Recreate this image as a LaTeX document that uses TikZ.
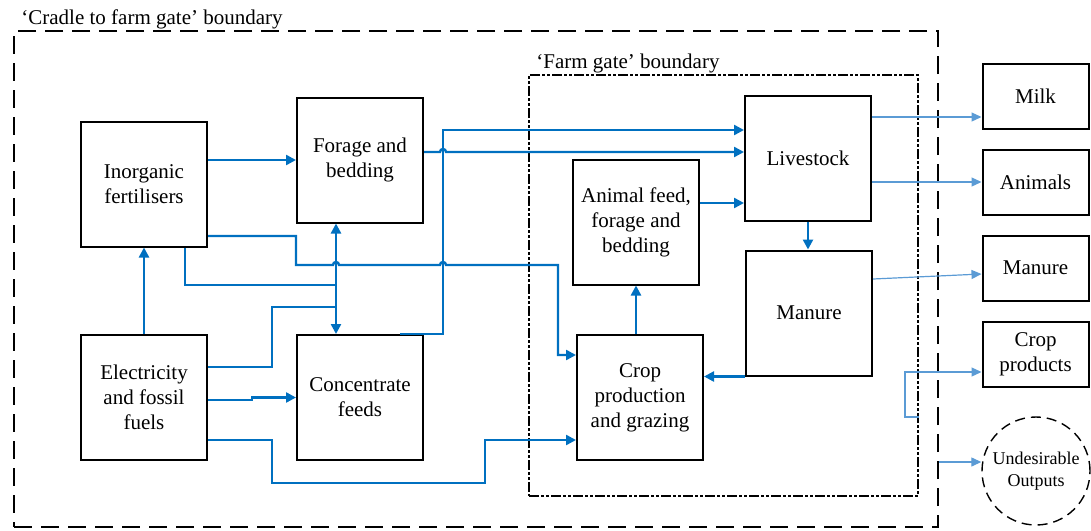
\documentclass[tikz,border=0pt]{standalone}
\usepackage{fontspec}
\setmainfont{Liberation Serif}
\usetikzlibrary{arrows.meta}
\definecolor{flowblue}{HTML}{0070C0}
\definecolor{outblue}{HTML}{5B9BD5}
\tikzset{box/.style={draw, line width=1pt, minimum width=63pt, minimum height=62.5pt, align=center, inner sep=2pt},
outbox/.style={draw, line width=1pt, minimum width=53pt, minimum height=32.5pt, align=center, inner sep=2pt},
%boundaries
cradlebd/.style={draw, line width=1.1pt, dash pattern=on 9pt off 4.5pt, minimum width=462pt, minimum height=248pt, inner sep=0pt},
gatebd/.style={draw, line width=1pt, dash pattern=on 5pt off 1.2pt on 1.2pt off 1.2pt on 1.2pt off 1.2pt, minimum width=194.5pt, minimum height=210.5pt, inner sep=0pt},
flow/.style={draw=flowblue, line width=1.2pt, ->},
link/.style={draw=flowblue, line width=1.2pt},
outflow/.style={draw=outblue, line width=0.6pt, -{Triangle[length=5pt,width=4.5pt]}}}

\begin{document}
\begin{tikzpicture}[x=0.5pt,y=-0.5pt,font=\fontsize{10.5}{12.5}\selectfont,>={Triangle[length=5pt,width=5pt]}]
\useasboundingbox (0,0) rectangle (1091,530);

% boundaries
\node[cradlebd] (cradle) at (476,279) {};
\node[gatebd] (gate) at (723.5,285.5) {};
\node[anchor=base west, inner sep=0pt] (cradletitle) at (21,25) {‘Cradle to farm gate’ boundary};
\node[anchor=base west, inner sep=0pt] (gatetitle) at (536,68) {‘Farm gate’ boundary};

% inputs
\node[box] (fert) at (144,184) {Inorganic\\fertilisers};
\node[box] (forage) at (360,160) {Forage and\\bedding};
\node[box] (elec) at (144,397.5) {Electricity\\and fossil\\fuels};
\node[box] (conc) at (360,397.5) {Concentrate\\feeds};

% farm
\node[box] (feed) at (636,222) {Animal feed,\\forage and\\bedding};
\node[box] (stock) at (808,158) {Livestock};
\node[box] (manure) at (809,313) {Manure};
\node[box] (crop) at (640,397.5) {Crop\\production\\and grazing};

% outputs
\foreach \name/\txt/\y in {milk/Milk/96, animals/Animals/182, manout/Manure/268, cropout/{Crop\\products}/354}
     \node[outbox] (\name) at (1035.5,\y) {\txt};
\node[draw, circle, line width=0.7pt, dash pattern=on 5pt off 3pt, minimum size=54pt, inner sep=0pt, align=center,
      font=\fontsize{9}{11}\selectfont] (undes) at (1036,471) {Undesirable\\Outputs};

% flows into the farm gate
\draw[flow] (fert.east |- forage.west) -- (forage.west);
\draw[flow] (elec.north) -- (fert.south);
\draw[link] (fert.south -| 185,0) |- (336,285);
\draw[flow, <->] (forage.south -| 336,0) -- (conc.north -| 336,0);
\draw[link] (elec.east |- 0,367) -| (272,307) -- (336,307);
\draw[flow] (elec.east |- 0,400) -- (252,400) -- (252,397.5) -- (conc.west);
\draw[flow] (elec.east |- 0,440) -| (272,483) -| (485,440) -- (crop.west |- 0,440);
\draw[flow] (fert.east |- 0,236) -| (296,265) -- (333,265) arc[start angle=180, end angle=360, radius=3]
     -- (440,265) arc[start angle=180, end angle=360, radius=3] -- (558,265) |- (crop.west |- 0,355);
\draw[flow] (conc.north -| 400,0) -| (443,130) -- (stock.west |- 0,130);
\draw[flow] (forage.east |- 0,152) -- (440,152) arc[start angle=180, end angle=360, radius=3] -- (stock.west |- 0,152);

% inside the farm
\draw[flow] (feed.east |- 0,203) -- (stock.west |- 0,203);
\draw[flow] (stock.south) -- (stock.south |- manure.north);
\draw[flow] (manure.south west) -- (crop.east |- manure.south west);
\draw[flow] (crop.north -| feed.south) -- (feed.south);

% products
\draw[outflow] (stock.east |- 0,117) -- (milk.west |- 0,117);
\draw[outflow] (stock.east |- animals.west) -- (animals.west);
\draw[outflow] (manure.east |- 0,279) -- (manout.west |- 0,274);
\draw[outflow] (gate.east |- 0,417) -| (905,372) -- (cropout.west |- 0,372);
\draw[outflow] (cradle.east |- 0,462) -- (undes.west |- 0,462);

\end{tikzpicture}
\end{document}
